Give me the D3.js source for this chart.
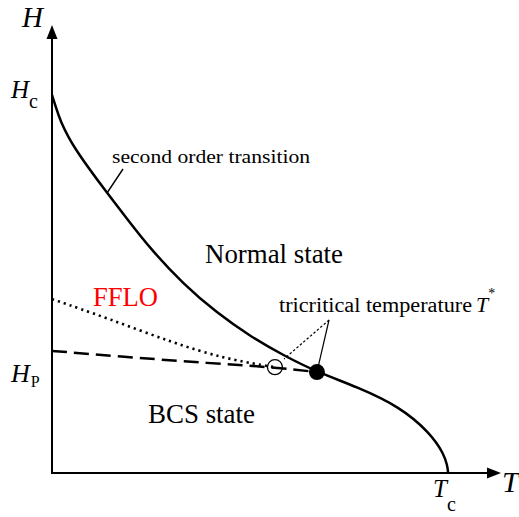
<!DOCTYPE html>
<html>
<head>
<meta charset="utf-8">
<script src="https://cdn.jsdelivr.net/npm/d3@7"></script>
<style>
  html, body { margin: 0; padding: 0; background: #fff; }
  svg { display: block; }
  text, tspan { font-family: "Liberation Serif", "Times New Roman", serif; }
</style>
</head>
<body>
<svg id="chart" width="519" height="517"></svg>
<script>
// T in units of Tc, H in units of Hc
const secondOrderT = [0, 0.010, 0.020, 0.053, 0.139, 0.192, 0.247, 0.331, 0.417, 0.500, 0.583, 0.669, 0.770, 0.879, 0.955, 0.990, 0.998, 1.0, 1.0];
const secondOrderH = [1.0, 0.967, 0.934, 0.862, 0.741, 0.669, 0.595, 0.500, 0.423, 0.362, 0.312, 0.267, 0.228, 0.175, 0.106, 0.050, 0.020, 0.005, 0.0];

const firstOrderT = [0, 0.222, 0.391, 0.558, 0.669];
const firstOrderH = [0.323, 0.304, 0.291, 0.280, 0.267];

const ffloT = [0, 0.139, 0.306, 0.432, 0.543, 0.563];
const ffloH = [0.460, 0.410, 0.344, 0.304, 0.283, 0.280];

const tricritical = { t: 0.669, h: 0.267 };
const openPoint = { t: 0.563, h: 0.280 };

const HP = 0.323;
const regionLabels = ["Normal state", "BCS state", "FFLO"];
const annotationLabels = ["second order transition", "tricritical temperature"];

const svg = d3.select("#chart");
const x = d3.scaleLinear().domain([0, 1]).range([52, 448]);
const y = d3.scaleLinear().domain([0, 1]).range([473, 95]);

const zip = (a, b) => a.map((v, i) => [v, b[i]]);
const line = d3.line().x(d => x(d[0])).y(d => y(d[1])).curve(d3.curveBasis);
const serif = '"Liberation Serif", "Times New Roman", serif';

// axes
svg.append("line").attr("x1", x(0)).attr("y1", y(0)).attr("x2", x(0)).attr("y2", 36)
  .attr("stroke", "#000").attr("stroke-width", 2);
svg.append("path").attr("d", "M52,25 L46.5,39 L57.5,39 Z").attr("fill", "#000");
svg.append("line").attr("x1", x(0) - 1).attr("y1", y(0)).attr("x2", 490).attr("y2", y(0))
  .attr("stroke", "#000").attr("stroke-width", 2);
svg.append("path").attr("d", "M501,473 L487,467.5 L487,478.5 Z").attr("fill", "#000");

// curves
svg.append("path").attr("d", line(zip(ffloT, ffloH)))
  .attr("fill", "none").attr("stroke", "#000").attr("stroke-width", 2.6)
  .attr("stroke-dasharray", "2.2,4").attr("stroke-linecap", "butt");
svg.append("path").attr("d", line(zip(firstOrderT, firstOrderH)))
  .attr("fill", "none").attr("stroke", "#000").attr("stroke-width", 2.5)
  .attr("stroke-dasharray", "15,7");
svg.append("path").attr("d", line(zip(secondOrderT, secondOrderH)))
  .attr("fill", "none").attr("stroke", "#000").attr("stroke-width", 2.5);

// leader lines
const apex = [329, 320];
svg.append("line").attr("x1", apex[0]).attr("y1", apex[1])
  .attr("x2", x(tricritical.t)).attr("y2", y(tricritical.h))
  .attr("stroke", "#000").attr("stroke-width", 1.2);
svg.append("line").attr("x1", apex[0]).attr("y1", apex[1]).attr("x2", 284).attr("y2", 359)
  .attr("stroke", "#000").attr("stroke-width", 1.2).attr("stroke-dasharray", "2.5,2");
svg.append("line").attr("x1", 107).attr("y1", 193).attr("x2", 123).attr("y2", 169)
  .attr("stroke", "#000").attr("stroke-width", 1.4);

// points
svg.append("circle").attr("cx", x(openPoint.t)).attr("cy", y(openPoint.h)).attr("r", 7.5)
  .attr("fill", "none").attr("stroke", "#000").attr("stroke-width", 1.3);
svg.append("circle").attr("cx", x(tricritical.t)).attr("cy", y(tricritical.h)).attr("r", 8)
  .attr("fill", "#000");

// axis labels
function sym(xp, yp, main, sub, size, subSize, dx, dy) {
  const t = svg.append("text").attr("x", xp).attr("y", yp).attr("fill", "#000")
    .attr("font-family", serif);
  t.append("tspan").attr("font-style", "italic").attr("font-size", size).text(main);
  if (sub) t.append("tspan").attr("font-size", subSize).attr("dx", dx).attr("dy", dy).text(sub);
  return t;
}
sym(22, 27, "H", null, 29);
sym(11, 98, "H", "c", 25, 20, 0, 10);
sym(11, 382, "H", "P", 26, 16, 1, 5);
sym(433, 497, "T", "c", 25, 20, 0, 14);
sym(502, 492, "T", null, 30);

// region labels
function label(xp, yp, size, color, txt, len) {
  const t = svg.append("text").attr("x", xp).attr("y", yp).attr("font-size", size)
    .attr("fill", color).attr("font-family", serif).text(txt);
  if (len) t.attr("textLength", len).attr("lengthAdjust", "spacingAndGlyphs");
  return t;
}
label(205, 263, 26.5, "#000", regionLabels[0], 138);
label(148, 423, 26.5, "#000", regionLabels[1], 107);
label(93, 306, 26.5, "#ff0000", regionLabels[2], 65);

// annotations
label(112, 163, 19, "#000", annotationLabels[0], 198);
label(279, 312, 20, "#000", annotationLabels[1], 193);
const tt = svg.append("text").attr("x", 476).attr("y", 312).attr("fill", "#000").attr("font-family", serif);
tt.append("tspan").attr("font-style", "italic").attr("font-size", 22).text("T");
tt.append("tspan").attr("font-size", 14).attr("dy", -14).attr("dx", 0).text("*");
</script>
</body>
</html>
